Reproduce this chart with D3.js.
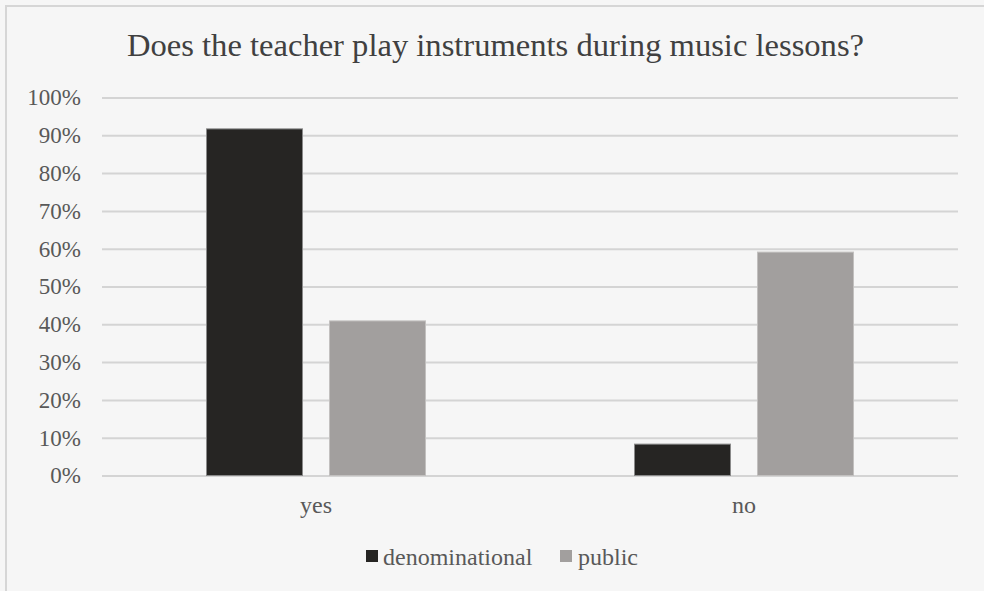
<!DOCTYPE html>
<html>
<head>
<meta charset="utf-8">
<script src="https://cdn.jsdelivr.net/npm/d3@7/dist/d3.min.js"></script>
<style>
  html, body { margin: 0; padding: 0; background: #f6f6f6; }
  svg { display: block; }
  text { font-family: "Liberation Serif", "Times New Roman", serif; }
</style>
</head>
<body>
<svg id="chart" width="984" height="591"></svg>
<script>
const title = "Does the teacher play instruments during music lessons?";
const categories = ["yes", "no"];
const seriesNames = ["denominational", "public"];
const denominational = [0.917, 0.083];
const publicVals = [0.409, 0.591];
const yTicks = [0, 0.1, 0.2, 0.3, 0.4, 0.5, 0.6, 0.7, 0.8, 0.9, 1.0];
const colors = ["#262523", "#a29f9e"];
const strokes = ["#8a8a8a", "#c2c0bf"];

const seriesValues = [denominational, publicVals];

const svg = d3.select("#chart");
const W = 984, H = 591;
const plot = { left: 102, right: 958, top: 97.5, bottom: 475.5 };

// background & border
svg.append("rect").attr("x", 0).attr("y", 0).attr("width", W).attr("height", H).attr("fill", "#f6f6f6");
svg.append("rect").attr("x", 6).attr("y", 6).attr("width", W + 20).attr("height", H + 20)
  .attr("fill", "#f6f6f6").attr("stroke", "#d6d6d6").attr("stroke-width", 2);

// title
svg.append("text").attr("x", 495.5).attr("y", 56).attr("text-anchor", "middle")
  .attr("font-size", 32).attr("fill", "#404040").attr("textLength", 737).attr("lengthAdjust", "spacingAndGlyphs")
  .text(title);

const y = d3.scaleLinear().domain([0, 1]).range([plot.bottom, plot.top]);
const x0 = d3.scaleBand().domain(categories).range([plot.left, plot.right]).paddingInner(0).paddingOuter(0);
const groupW = 219;
const x1 = d3.scaleBand().domain(seriesNames).range([-groupW / 2, groupW / 2]).paddingInner(27 / 123).paddingOuter(0);

// y axis with gridlines
const yAxis = d3.axisLeft(y).tickValues(yTicks)
  .tickFormat(d => Math.round(d * 100) + "%")
  .tickSizeInner(-(plot.right - plot.left)).tickSizeOuter(0).tickPadding(21);
const gy = svg.append("g").attr("transform", `translate(${plot.left},0)`).call(yAxis);
gy.select(".domain").remove();
gy.selectAll(".tick line").attr("stroke", "#d4d4d4").attr("stroke-width", 2);
gy.selectAll(".tick text").attr("font-size", 23).attr("fill", "#595959")
  .attr("font-family", "'Liberation Serif', 'Times New Roman', serif");

// bars
const data = [];
categories.forEach((c, i) => seriesNames.forEach((s, j) => data.push({ c, s, j, v: seriesValues[j][i] })));
svg.append("g").selectAll("rect").data(data).join("rect")
  .attr("x", d => x0(d.c) + x0.bandwidth() / 2 + x1(d.s))
  .attr("width", x1.bandwidth())
  .attr("y", d => y(d.v))
  .attr("height", d => y(0) - y(d.v))
  .attr("fill", d => colors[d.j])
  .attr("stroke", d => strokes[d.j]).attr("stroke-width", 1);

// x axis labels
const xAxis = d3.axisBottom(x0).tickSize(0).tickPadding(0);
const gx = svg.append("g").attr("transform", `translate(0,${plot.bottom})`).call(xAxis);
gx.select(".domain").remove();
gx.selectAll(".tick text").attr("font-size", 24).attr("fill", "#595959")
  .attr("font-family", "'Liberation Serif', 'Times New Roman', serif")
  .attr("dy", null).attr("y", 37);

// legend
const legend = [
  { name: seriesNames[0], color: colors[0], sx: 366, tx: 383 },
  { name: seriesNames[1], color: colors[1], sx: 560, tx: 578 }
];
const lg = svg.append("g");
legend.forEach(l => {
  lg.append("rect").attr("x", l.sx).attr("y", 550).attr("width", 12).attr("height", 12).attr("fill", l.color);
  lg.append("text").attr("x", l.tx).attr("y", 565).attr("font-size", 24).attr("fill", "#595959").text(l.name);
});
</script>
</body>
</html>
